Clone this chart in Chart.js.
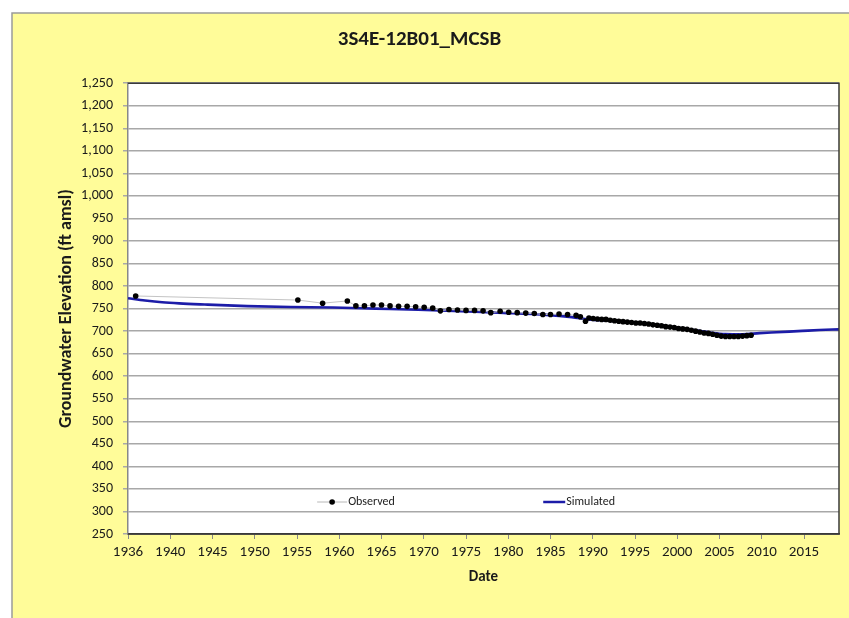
<!DOCTYPE html>
<html>
<head>
<meta charset="utf-8">
<script src="https://cdn.jsdelivr.net/npm/chart.js@4.4.0/dist/chart.umd.min.js"></script>
<style>
  html, body { margin: 0; padding: 0; background: #fff; }
</style>
</head>
<body>
<canvas id="chart" width="849" height="618"></canvas>
<script>
// Datos
const chartTitle = '3S4E-12B01_MCSB';
const xTickLabels = ['1936', '1940', '1945', '1950', '1955', '1960', '1965', '1970', '1975',
    '1980', '1985', '1990', '1995', '2000', '2005', '2010', '2015'];
const yMin = 250;
const yMax = 1250;
const yStep = 50;

const obsYears = [1936.9, 1955.9, 1958.8, 1961.7, 1962.7, 1963.7, 1964.7, 1965.7, 1966.7, 1967.7,
    1968.7, 1969.7, 1970.7, 1971.7, 1972.6, 1973.6, 1974.6, 1975.6, 1976.6, 1977.6,
    1978.5, 1979.6, 1980.6, 1981.6, 1982.6, 1983.6, 1984.6, 1985.5, 1986.5, 1987.5,
    1988.5, 1989.0, 1989.6, 1990.0, 1990.5, 1991.0, 1991.5, 1992.0, 1992.5, 1993.0,
    1993.5, 1994.0, 1994.5, 1995.0, 1995.5, 1996.0, 1996.5, 1997.0, 1997.5, 1998.0,
    1998.5, 1999.0, 1999.5, 2000.0, 2000.5, 2001.0, 2001.5, 2002.0, 2002.5, 2003.0,
    2003.5, 2004.0, 2004.5, 2005.0, 2005.5, 2006.0, 2006.5, 2007.0, 2007.5, 2008.0,
    2008.5, 2009.0];
const obsValues = [778, 769, 762, 767, 756, 756, 758, 758, 756, 755,
    755, 754, 753, 751, 745, 748, 747, 746, 746, 745,
    741, 744, 742, 741, 740, 739, 737, 737, 738, 737,
    735, 732, 722, 729, 728, 727, 726, 726, 724, 723,
    722, 721, 720, 719, 718, 718, 717, 716, 714, 713,
    712, 710, 709, 708, 706, 705, 704, 702, 700, 698,
    696, 695, 693, 691, 689, 688, 688, 688, 688, 689,
    690, 691];

const simYears = [1936.0, 1938, 1940, 1942, 1945, 1950, 1955, 1960, 1965, 1970,
    1975, 1980, 1985, 1988, 1990, 1992, 1995, 1998, 2000, 2002,
    2004, 2006, 2008, 2010, 2012, 2015, 2017, 2019.3];
const simValues = [773, 768, 764, 761.5, 759, 755.5, 753.5, 752.5, 750, 747.5,
    744, 740.5, 736, 731, 726, 723.5, 719.5, 714, 708.5, 703,
    697.5, 693.5, 693, 695.5, 697.5, 700.5, 702.5, 704];

const xStart = 1936;
const xTickStep = 4.95;
const xEnd = 2019.3;

const fontFamily = "Carlito, Calibri, 'Liberation Sans Narrow', 'Open Sans', sans-serif";

// Fondo amarillo y borde del area de trazado
const fondoPlugin = {
    id: 'fondo',
    beforeDraw(chart) {
        const { ctx, chartArea: a, width, height } = chart;
        ctx.save();
        ctx.fillStyle = '#ffffff';
        ctx.fillRect(0, 0, width, height);
        ctx.fillStyle = '#fffc99';
        ctx.fillRect(12, 13, width - 12, height - 13);
        ctx.strokeStyle = '#9a9a9a';
        ctx.lineWidth = 1.5;
        ctx.beginPath();
        ctx.moveTo(12, height);
        ctx.lineTo(12, 13);
        ctx.lineTo(width, 13);
        ctx.stroke();
        ctx.fillStyle = '#ffffff';
        ctx.fillRect(a.left, a.top, a.right - a.left, a.bottom - a.top);
        ctx.restore();
    },
    afterDraw(chart) {
        const { ctx, chartArea: a } = chart;
        ctx.save();
        ctx.strokeStyle = '#3a3a3a';
        ctx.lineWidth = 1.5;
        ctx.beginPath();
        ctx.moveTo(a.left, a.top);
        ctx.lineTo(a.right, a.top);
        ctx.lineTo(a.right, a.bottom);
        ctx.lineTo(a.left, a.bottom);
        ctx.stroke();
        ctx.restore();
    }
};

// Leyenda dentro del area de trazado
const leyendaPlugin = {
    id: 'leyenda',
    afterDatasetsDraw(chart) {
        const { ctx, chartArea: a } = chart;
        const w = a.right - a.left;
        const y = a.bottom - 32;
        ctx.save();
        ctx.font = '12px ' + fontFamily;
        ctx.textBaseline = 'middle';

        // Observed
        let x0 = a.left + w * 0.266;
        ctx.strokeStyle = '#b8b8b8';
        ctx.lineWidth = 1;
        ctx.beginPath();
        ctx.moveTo(x0, y);
        ctx.lineTo(x0 + 30, y);
        ctx.stroke();
        ctx.fillStyle = '#000';
        ctx.beginPath();
        ctx.arc(x0 + 15, y, 2.8, 0, Math.PI * 2);
        ctx.fill();
        ctx.fillStyle = '#222';
        ctx.fillText('Observed', x0 + 31, y);

        // Simulated
        x0 = a.left + w * 0.584;
        ctx.strokeStyle = '#1c1ca8';
        ctx.lineWidth = 2.5;
        ctx.beginPath();
        ctx.moveTo(x0, y);
        ctx.lineTo(x0 + 22, y);
        ctx.stroke();
        ctx.fillText('Simulated', x0 + 23, y);
        ctx.restore();
    }
};

const ctx = document.getElementById('chart').getContext('2d');
new Chart(ctx, {
    type: 'scatter',
    data: {
        datasets: [{
            label: 'Observed',
            data: obsYears.map((x, i) => ({ x: x, y: obsValues[i] })),
            showLine: true,
            borderColor: '#c4c4c4',
            borderWidth: 1,
            pointRadius: 2.8,
            pointBackgroundColor: '#000',
            pointBorderWidth: 0,
            order: 1
        }, {
            label: 'Simulated',
            data: simYears.map((x, i) => ({ x: x, y: simValues[i] })),
            showLine: true,
            borderColor: '#1c1ca8',
            borderWidth: 2.6,
            pointRadius: 0,
            cubicInterpolationMode: 'monotone',
            order: 2
        }]
    },
    options: {
        responsive: false,
        animation: false,
        layout: { padding: { left: 0, right: 10, top: 0, bottom: 0 } },
        plugins: {
            legend: { display: false },
            tooltip: { enabled: false },
            title: {
                display: true,
                text: chartTitle,
                color: '#1a1a1a',
                font: { family: fontFamily, size: 21, weight: 'bold' },
                padding: { top: 27, bottom: 31 }
            }
        },
        scales: {
            x: {
                type: 'linear',
                min: xStart,
                max: xEnd,
                afterBuildTicks: (scale) => {
                    scale.ticks = xTickLabels.map((l, i) => ({ value: xStart + i * xTickStep }));
                },
                afterFit: (scale) => { scale.height = 84; },
                ticks: {
                    autoSkip: false,
                    maxRotation: 0,
                    padding: 4,
                    color: '#1a1a1a',
                    font: { family: fontFamily, size: 15 },
                    callback: (v, i) => xTickLabels[i]
                },
                grid: {
                    drawOnChartArea: false,
                    tickLength: 5,
                    color: '#888'
                },
                border: { color: '#3a3a3a', width: 1.5 },
                title: {
                    display: true,
                    text: 'Date',
                    color: '#1a1a1a',
                    font: { family: fontFamily, size: 15, weight: 'bold' },
                    padding: { top: 4, bottom: 32 }
                }
            },
            y: {
                min: yMin,
                max: yMax,
                afterFit: (scale) => { scale.width = 128; },
                ticks: {
                    stepSize: yStep,
                    padding: 10,
                    color: '#1a1a1a',
                    font: { family: fontFamily, size: 14 },
                    callback: (v) => v.toLocaleString('en-US')
                },
                grid: {
                    color: '#a8a8a8',
                    lineWidth: 1.5,
                    tickLength: 5
                },
                border: { color: '#888', width: 1.5 },
                title: {
                    display: true,
                    text: 'Groundwater Elevation (ft amsl)',
                    color: '#1a1a1a',
                    font: { family: fontFamily, size: 18, weight: 'bold' },
                    padding: { top: 56, bottom: 4 }
                }
            }
        }
    },
    plugins: [fondoPlugin, leyendaPlugin]
});
</script>
</body>
</html>
